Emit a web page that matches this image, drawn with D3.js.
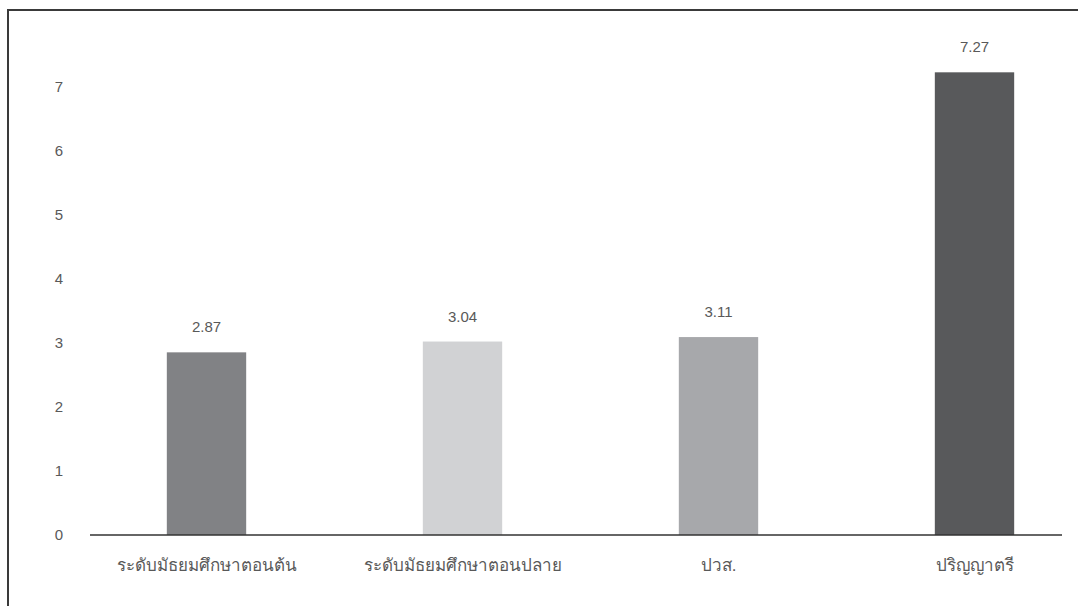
<!DOCTYPE html>
<html><head><meta charset="utf-8">
<script src="https://cdn.jsdelivr.net/npm/d3@7"></script>
<style>
html,body{margin:0;padding:0;background:#fff;}
svg{display:block;font-family:"Liberation Sans","Noto Sans",sans-serif;}
</style></head>
<body>
<script>
const categories = ["ระดับมัธยมศึกษาตอนต้น","ระดับมัธยมศึกษาตอนปลาย","ปวส.","ปริญญาตรี"];
const values = [2.87, 3.04, 3.11, 7.27];
const colors = ["#818285","#d1d2d4","#a7a8ab","#58595b"];
const yTicks = [0,1,2,3,4,5,6,7];

const W = 1078, H = 606;
const svg = d3.select("body").append("svg").attr("width", W).attr("height", H);

// frame
svg.append("rect").attr("x", 8).attr("y", 10).attr("width", W + 20).attr("height", H + 20)
  .attr("fill", "none").attr("stroke", "#3a3a3a").attr("stroke-width", 2);

const y = d3.scaleLinear().domain([0, 7]).range([535, 89.5]);
const x = d3.scaleBand().domain(categories).range([78.5, 1102.5]).paddingInner(0.69).paddingOuter(0.345);

// y ticks
svg.append("g").selectAll("text").data(yTicks).join("text")
  .attr("x", 63).attr("y", d => y(d) - d * 0.35).attr("dy", "0.35em")
  .attr("text-anchor", "end").attr("font-size", 15).attr("fill", "#595959")
  .text(d => d);

// bars
svg.append("g").selectAll("rect").data(values).join("rect")
  .attr("x", (d, i) => x(categories[i]))
  .attr("width", x.bandwidth())
  .attr("y", d => y(d))
  .attr("height", d => y(0) - y(d))
  .attr("fill", (d, i) => colors[i]);

// baseline
svg.append("line").attr("x1", 90).attr("x2", 1062).attr("y1", y(0)).attr("y2", y(0))
  .attr("stroke", "#333").attr("stroke-width", 1.5);

// value labels
svg.append("g").selectAll("text").data(values).join("text")
  .attr("x", (d, i) => x(categories[i]) + x.bandwidth() / 2)
  .attr("y", d => y(d) - 20)
  .attr("text-anchor", "middle").attr("font-size", 15).attr("fill", "#595959")
  .text(d => d.toFixed(2));

// category labels
svg.append("g").selectAll("text").data(categories).join("text")
  .attr("x", d => x(d) + x.bandwidth() / 2)
  .attr("y", 571)
  .attr("text-anchor", "middle").attr("font-size", 17).attr("fill", "#595959")
  .text(d => d);
</script>
</body></html>
